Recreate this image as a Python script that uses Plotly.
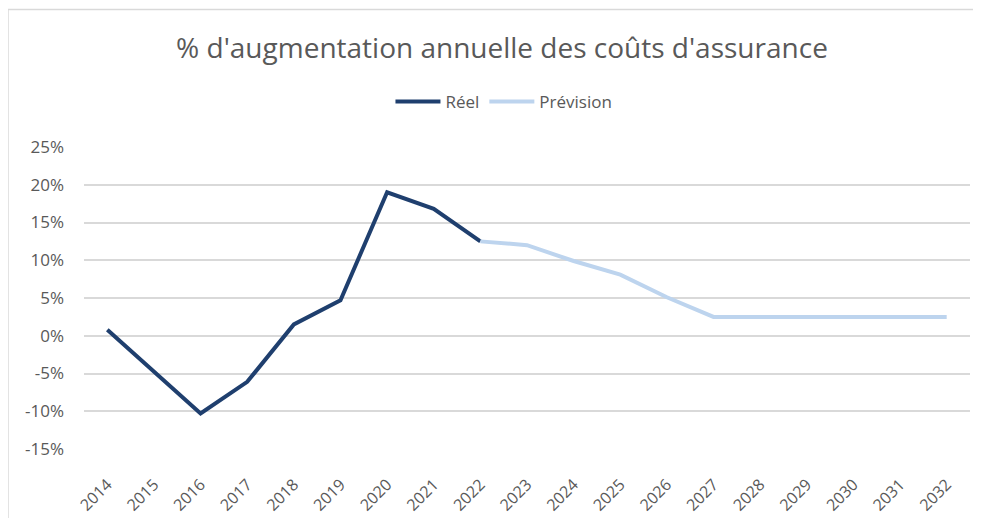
import plotly.graph_objects as go

years = [str(y) for y in range(2014, 2033)]
reel_years = years[:9]
reel_values = [0.8, -4.7, -10.3, -6.1, 1.5, 4.7, 19.0, 16.8, 12.5]
prev_years = years[8:]
prev_values = [12.5, 12.0, 9.9, 8.1, 5.1, 2.5, 2.5, 2.5, 2.5, 2.5, 2.5]
ytick_vals = [-15, -10, -5, 0, 5, 10, 15, 20, 25]
ytick_text = [f"{v}%" for v in ytick_vals]

GRAY = "#595959"
FONT = "Open Sans"

fig = go.Figure()
fig.add_trace(go.Scatter(x=reel_years, y=reel_values, mode="lines", name="Réel",
                         line=dict(color="#1F3F6E", width=4)))
fig.add_trace(go.Scatter(x=prev_years, y=prev_values, mode="lines", name="Prévision",
                         line=dict(color="#BDD4EE", width=4)))

# chart frame (Excel-style border)
fig.add_shape(type="line", xref="paper", yref="paper", x0=-0.0858, x1=1.05, y0=1.4553, y1=1.4553,
              line=dict(color="#D9D9D9", width=1.5))
fig.add_shape(type="line", xref="paper", yref="paper", x0=-0.0858, x1=-0.0858, y0=1.4553, y1=-0.3,
              line=dict(color="#D9D9D9", width=1.5))

fig.update_layout(
    width=973, height=510,
    margin=dict(l=76, r=11, t=139, b=69),
    paper_bgcolor="white", plot_bgcolor="white",
    font=dict(family=FONT, color=GRAY),
    title=dict(text="% d'augmentation annuelle des coûts d'assurance",
               x=0.5077, xanchor="center", y=0.9216, yanchor="middle",
               font=dict(size=28, color=GRAY, family=FONT)),
    legend=dict(orientation="h", x=0.474, xanchor="center", y=1.149, yanchor="middle",
                font=dict(size=17, color=GRAY, family=FONT), bgcolor="rgba(0,0,0,0)",
                itemwidth=45, tracegroupgap=0),
    showlegend=True,
)
fig.update_xaxes(type="category", categoryorder="array", categoryarray=years,
                 range=[-0.5, len(years) - 0.5], tickangle=-45, showgrid=False,
                 showline=False, ticks="outside", ticklen=1, tickcolor="rgba(0,0,0,0)",
                 ticklabelstandoff=18, automargin=False,
                 tickfont=dict(size=16, color=GRAY, family=FONT), fixedrange=True)
fig.update_yaxes(range=[-15, 25], tickvals=ytick_vals, ticktext=ytick_text,
                 showgrid=True, gridcolor="#D9D9D9", gridwidth=1.5, zeroline=False,
                 showline=False, ticks="", ticklabelstandoff=19, automargin=False,
                 tickfont=dict(size=17, color=GRAY, family=FONT), fixedrange=True)

fig.write_html("out.html")
